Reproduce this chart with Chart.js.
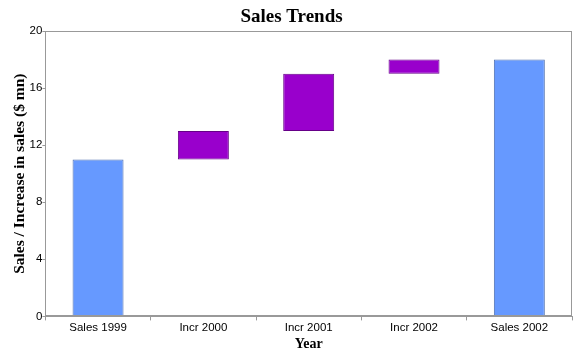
<!DOCTYPE html>
<html>
<head>
<meta charset="utf-8">
<script src="https://cdn.jsdelivr.net/npm/chart.js@4/dist/chart.umd.min.js"></script>
<style>
html,body{margin:0;padding:0;background:#fff;}
#wrap{width:588px;height:356px;position:relative;}
</style>
</head>
<body>
<div id="wrap"><canvas id="c"></canvas></div>
<script>
const categories = ["Sales 1999", "Incr 2000", "Incr 2001", "Incr 2002", "Sales 2002"];
const barStarts = [0, 11, 13, 17, 0];
const barEnds = [11, 13, 17, 18, 18];
const barKinds = ["total", "incr", "incr", "incr", "total"];
const yTicks = [0, 4, 8, 12, 16, 20];

const colorFor = k => k === "total" ? "#6699FF" : "#9900CC";
const borderFor = k => k === "total" ? "#4f70b0" : "#660088";

const frame = {
  id: "frame",
  afterDatasetsDraw(chart) {
    const a = chart.chartArea, ctx = chart.ctx;
    ctx.save();
    ctx.strokeStyle = "#999999";
    ctx.lineWidth = 1;
    ctx.strokeRect(Math.round(a.left) + 0.5, Math.round(a.top) + 0.5, Math.round(a.right - a.left) - 1, Math.round(a.bottom - a.top) - 1);
    ctx.restore();
  }
};

new Chart(document.getElementById("c"), {
  type: "bar",
  data: {
    labels: categories,
    datasets: [{
      data: barStarts.map((s, i) => [s, barEnds[i]]),
      backgroundColor: barKinds.map(colorFor),
      borderColor: barKinds.map(borderFor),
      borderWidth: 1,
      borderSkipped: false,
      barPercentage: 0.968,
      categoryPercentage: 0.5
    }]
  },
  options: {
    responsive: true,
    maintainAspectRatio: false,
    animation: false,
    layout: { padding: { left: 11, right: 16, top: 0, bottom: 3 } },
    plugins: {
      legend: { display: false },
      tooltip: { enabled: false },
      title: {
        display: true,
        text: "Sales Trends",
        font: { family: "Liberation Serif", size: 19, weight: "bold" },
        color: "#000",
        padding: { top: 6, bottom: 2.2 }
      }
    },
    scales: {
      x: {
        grid: { drawOnChartArea: false, drawTicks: true, tickLength: 4, color: "#999999" },
        border: { color: "#999999" },
        ticks: { font: { family: "Liberation Sans", size: 11.5 }, color: "#000", padding: 1, maxRotation: 0 },
        title: { display: true, text: "Year", font: { family: "Liberation Serif", size: 14, weight: "bold" }, color: "#000", padding: { top: 0, bottom: 0 } }
      },
      y: {
        min: 0, max: 20,
        afterBuildTicks: s => { s.ticks = yTicks.map(v => ({ value: v })); },
        grid: { drawOnChartArea: false, drawTicks: true, tickLength: 3, color: "#999999" },
        border: { color: "#999999" },
        ticks: { font: { family: "Liberation Sans", size: 11.5 }, color: "#000", padding: 0 },
        title: { display: true, text: "Sales / Increase in sales ($ mn)", font: { family: "Liberation Serif", size: 15.5, weight: "bold" }, color: "#000", padding: { top: 0, bottom: 0 } }
      }
    }
  },
  plugins: [frame]
});
</script>
</body>
</html>
